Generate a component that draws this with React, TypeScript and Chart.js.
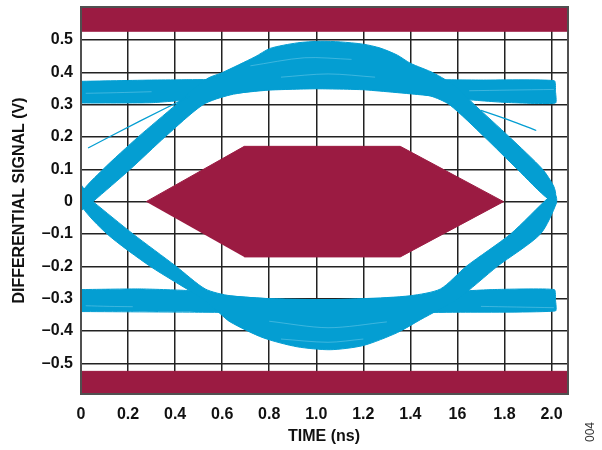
import { useEffect, useRef } from "react";
import { Chart, registerables } from "chart.js";

Chart.register(...registerables);

// Axis ticks and their printed labels
const X_TICKS = [0, 0.2, 0.4, 0.6, 0.8, 1.0, 1.2, 1.4, 1.6, 1.8, 2.0];
const X_TICK_LABELS = ["0", "0.2", "0.4", "0.6", "0.8", "1.0", "1.2", "1.4", "16", "1.8", "2.0"];
const Y_TICKS = [-0.5, -0.4, -0.3, -0.2, -0.1, 0, 0.1, 0.2, 0.3, 0.4, 0.5];
const Y_TICK_LABELS = ["–0.5", "–0.4", "–0.3", "–0.2", "–0.1", "0", "0.1", "0.2", "0.3", "0.4", "0.5"];

// Eye-mask regions (time in ns, differential signal in V)
const MASK_TOP_T = [0, 2.07, 2.07, 0];
const MASK_TOP_V = [0.527, 0.527, 0.602, 0.602];
const MASK_BOTTOM_T = [0, 2.07, 2.07, 0];
const MASK_BOTTOM_V = [-0.525, -0.525, -0.595, -0.595];
const MASK_CENTER_T = [0.277, 0.694, 1.357, 1.796, 1.357, 0.694];
const MASK_CENTER_V = [0, 0.171, 0.171, 0, -0.171, -0.171];

// Steady high level traces (outline of the bundle)
const HIGH_LEVEL_T = [0, 0.3, 0.6, 1.0, 1.4, 1.7, 2.012, 2.017, 2.017, 1.8, 1.6, 1.45, 1.2, 1.0, 0.8, 0.62, 0.5, 0.3, 0];
const HIGH_LEVEL_V = [0.372, 0.376, 0.378, 0.38, 0.378, 0.376, 0.374, 0.34, 0.305, 0.307, 0.318, 0.33, 0.346, 0.349, 0.345, 0.332, 0.318, 0.306, 0.305];

// Steady low level traces
const LOW_LEVEL_T = [0, 0.25, 0.45, 0.6, 0.8, 1.0, 1.2, 1.4, 1.55, 1.75, 2.012, 2.017, 2.017, 1.6, 1.0, 0.5, 0];
const LOW_LEVEL_V = [-0.272, -0.27, -0.275, -0.29, -0.3, -0.303, -0.302, -0.294, -0.28, -0.272, -0.272, -0.305, -0.338, -0.342, -0.345, -0.342, -0.34];

// Rising edge, single-bit high arc and falling edge (upper half of the eye)
const UPPER_EYE_T = [
  0, 0, 0.094, 0.243, 0.404, 0.472, 0.54, 0.6, 0.74, 0.804, 0.919, 1.017, 1.102, 1.2, 1.272, 1.345, 1.4,
  1.498, 1.591, 1.672, 1.821, 1.962, 2.009, 2.017, 1.987,
  1.855, 1.715, 1.566, 1.485, 1.4, 1.2, 0.987, 0.774, 0.634, 0.519, 0.357, 0.209, 0.051,
];
const UPPER_EYE_V = [
  -0.03, 0.025, 0.1, 0.2, 0.3, 0.345, 0.382, 0.399, 0.448, 0.474, 0.491, 0.496, 0.494, 0.487, 0.475, 0.453, 0.428,
  0.398, 0.357, 0.3, 0.2, 0.1, 0.048, 0.018, 0.008,
  0.1, 0.2, 0.3, 0.327, 0.336, 0.348, 0.351, 0.345, 0.33, 0.3, 0.2, 0.1, 0,
];

// Falling edge, single-bit low arc and rising edge (lower half of the eye)
const LOWER_EYE_T = [
  0, 0, 0.111, 0.294, 0.515, 0.583, 0.634, 0.774, 0.919, 1.06, 1.2, 1.345, 1.443, 1.519, 1.604, 1.77, 1.953,
  2.021, 2.017, 1.991,
  1.826, 1.638, 1.528, 1.4, 1.2, 0.919, 0.634, 0.528, 0.404, 0.221, 0.051,
];
const LOWER_EYE_V = [
  0.055, -0.01, -0.1, -0.2, -0.3, -0.341, -0.372, -0.421, -0.449, -0.458, -0.445, -0.405, -0.365, -0.335, -0.3, -0.2, -0.1,
  -0.004, 0.021, 0.015,
  -0.1, -0.2, -0.27, -0.291, -0.3, -0.304, -0.291, -0.27, -0.2, -0.1, 0,
];

// Isolated stray traces
const STRAY_LEFT_T = [0.03, 0.25, 0.46];
const STRAY_LEFT_V = [0.166, 0.249, 0.325];
const STRAY_RIGHT_T = [1.7, 1.82, 1.935];
const STRAY_RIGHT_V = [0.282, 0.252, 0.22];

// Faint individual traces visible inside the bundles
const SHEEN_1_T = [0.02, 0.15, 0.3];
const SHEEN_1_V = [0.335, 0.337, 0.34];
const SHEEN_2_T = [1.65, 1.82, 2.01];
const SHEEN_2_V = [0.343, 0.345, 0.347];
const SHEEN_3_T = [0.72, 0.95, 1.15];
const SHEEN_3_V = [0.42, 0.445, 0.44];
const SHEEN_4_T = [0.85, 1.05, 1.25];
const SHEEN_4_V = [0.385, 0.395, 0.385];
const SHEEN_5_T = [0.8, 1.05, 1.3];
const SHEEN_5_V = [-0.37, -0.39, -0.372];
const SHEEN_6_T = [0.85, 1.05, 1.2];
const SHEEN_6_V = [-0.425, -0.435, -0.425];
const SHEEN_7_T = [0.02, 0.12, 0.22];
const SHEEN_7_V = [-0.322, -0.324, -0.325];
const SHEEN_8_T = [1.7, 1.85, 2.01];
const SHEEN_8_V = [-0.324, -0.326, -0.328];

const BLUE = "rgb(4,158,210)";
const SHEEN = "rgba(130,210,238,0.45)";
const MAROON = "#9b1b42";
const FONT_FAMILY = '"Liberation Sans", Arial, Helvetica, sans-serif';

const toPoints = (t: number[], v: number[]) => t.map((x, i) => ({ x, y: v[i] }));

const shape = (label: string, t: number[], v: number[], color: string, tension: number, order: number) => ({
  label,
  data: toPoints(t, v),
  showLine: true,
  fill: "shape",
  backgroundColor: color,
  borderColor: color,
  borderWidth: 1,
  pointRadius: 0,
  tension,
  order,
});

const trace = (label: string, t: number[], v: number[], color: string, width: number, order: number) => ({
  label,
  data: toPoints(t, v),
  showLine: true,
  fill: false,
  borderColor: color,
  borderWidth: width,
  pointRadius: 0,
  tension: 0.3,
  order,
});

const decorations = {
  id: "decorations",
  afterDatasetsDraw(chart: any) {
    const { ctx, chartArea } = chart;
    ctx.save();
    ctx.strokeStyle = "#505050";
    ctx.lineWidth = 2;
    ctx.strokeRect(chartArea.left, chartArea.top, chartArea.right - chartArea.left, chartArea.bottom - chartArea.top);
    ctx.restore();
  },
  afterDraw(chart: any) {
    const { ctx, chartArea } = chart;
    ctx.save();
    ctx.fillStyle = "#111";
    ctx.font = `bold 16px ${FONT_FAMILY}`;
    ctx.textAlign = "center";
    ctx.textBaseline = "middle";
    ctx.fillText("TIME (ns)", 324, 437);

    ctx.save();
    ctx.translate(20, (chartArea.top + chartArea.bottom) / 2);
    ctx.rotate(-Math.PI / 2);
    ctx.fillText("DIFFERENTIAL SIGNAL (V)", 0, 0);
    ctx.restore();

    ctx.save();
    ctx.font = `12px ${FONT_FAMILY}`;
    ctx.fillStyle = "#333";
    ctx.translate(591, 432);
    ctx.rotate(-Math.PI / 2);
    ctx.fillText("004", 0, 0);
    ctx.restore();
    ctx.restore();
  },
};

export default function App() {
  const canvasRef = useRef<HTMLCanvasElement | null>(null);

  useEffect(() => {
    if (!canvasRef.current) return;
    const chart = new Chart(canvasRef.current, {
      type: "scatter",
      data: {
        datasets: [
          shape("Mask top", MASK_TOP_T, MASK_TOP_V, MAROON, 0, 1),
          shape("Mask bottom", MASK_BOTTOM_T, MASK_BOTTOM_V, MAROON, 0, 1),
          shape("Mask center", MASK_CENTER_T, MASK_CENTER_V, MAROON, 0, 1),
          trace("Sheen 1", SHEEN_1_T, SHEEN_1_V, SHEEN, 1, 3),
          trace("Sheen 2", SHEEN_2_T, SHEEN_2_V, SHEEN, 1, 3),
          trace("Sheen 3", SHEEN_3_T, SHEEN_3_V, SHEEN, 1, 3),
          trace("Sheen 4", SHEEN_4_T, SHEEN_4_V, SHEEN, 1, 3),
          trace("Sheen 5", SHEEN_5_T, SHEEN_5_V, SHEEN, 1, 3),
          trace("Sheen 6", SHEEN_6_T, SHEEN_6_V, SHEEN, 1, 3),
          trace("Sheen 7", SHEEN_7_T, SHEEN_7_V, SHEEN, 1, 3),
          trace("Sheen 8", SHEEN_8_T, SHEEN_8_V, SHEEN, 1, 3),
          trace("Stray left", STRAY_LEFT_T, STRAY_LEFT_V, BLUE, 1.3, 4),
          trace("Stray right", STRAY_RIGHT_T, STRAY_RIGHT_V, BLUE, 1.3, 4),
          shape("High level", HIGH_LEVEL_T, HIGH_LEVEL_V, BLUE, 0.15, 6),
          shape("Low level", LOW_LEVEL_T, LOW_LEVEL_V, BLUE, 0.15, 6),
          shape("Upper eye", UPPER_EYE_T, UPPER_EYE_V, BLUE, 0.25, 5),
          shape("Lower eye", LOWER_EYE_T, LOWER_EYE_V, BLUE, 0.25, 5),
        ] as any,
      },
      plugins: [decorations],
      options: {
        responsive: false,
        animation: false,
        layout: { padding: { left: 0, right: 34, top: 7, bottom: 0 } },
        plugins: { legend: { display: false }, tooltip: { enabled: false } },
        scales: {
          x: {
            type: "linear",
            min: 0,
            max: 2.07,
            afterFit: (scale: any) => {
              scale.height = 56;
              scale.paddingLeft = 0;
              scale.paddingRight = 0;
            },
            afterBuildTicks: (scale: any) => {
              scale.ticks = X_TICKS.map((value) => ({ value }));
            },
            ticks: {
              autoSkip: false,
              maxRotation: 0,
              minRotation: 0,
              padding: 11,
              color: "#111",
              font: { family: FONT_FAMILY, size: 16, weight: "bold" },
              callback: (_v: any, i: number) => X_TICK_LABELS[i],
            },
            grid: { color: "#222", lineWidth: 1.5, drawTicks: false },
            border: { display: false },
          },
          y: {
            type: "linear",
            min: -0.595,
            max: 0.602,
            afterFit: (scale: any) => {
              scale.width = 81;
              scale.paddingTop = 0;
              scale.paddingBottom = 0;
            },
            afterBuildTicks: (scale: any) => {
              scale.ticks = Y_TICKS.map((value) => ({ value }));
            },
            ticks: {
              autoSkip: false,
              padding: 8,
              color: "#111",
              font: { family: FONT_FAMILY, size: 16, weight: "bold" },
              callback: (_v: any, i: number) => Y_TICK_LABELS[i],
            },
            grid: { color: "#222", lineWidth: 1.5, drawTicks: false },
            border: { display: false },
          },
        },
      } as any,
    });
    return () => chart.destroy();
  }, []);

  return (
    <div style={{ position: "fixed", left: 0, top: 0, width: 602, height: 450, background: "#fff" }}>
      <canvas ref={canvasRef} width={602} height={450} style={{ display: "block", width: 602, height: 450 }} />
    </div>
  );
}
